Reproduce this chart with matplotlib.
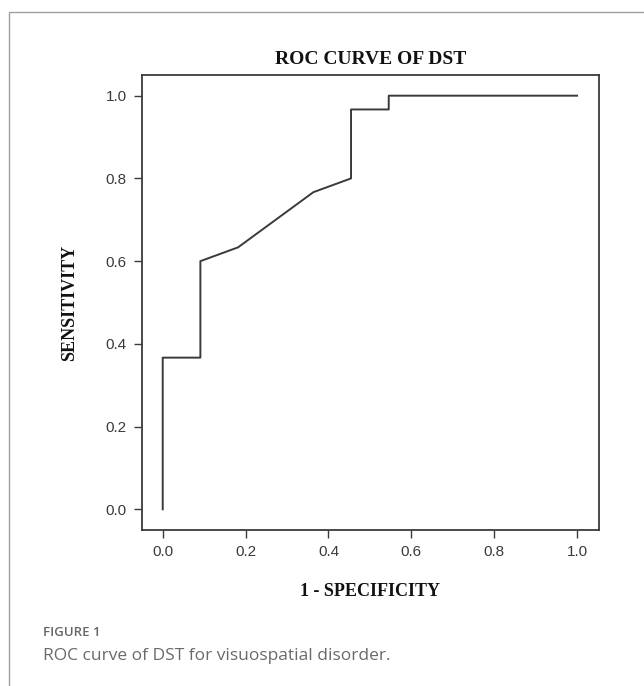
import matplotlib.pyplot as plt
from matplotlib.patches import Rectangle

# ROC points (1 - specificity, sensitivity)
fpr = [0.0, 0.0, 0.0909, 0.0909, 0.1818, 0.3636, 0.4545, 0.4545, 0.5455, 0.5455, 1.0]
tpr = [0.0, 0.3667, 0.3667, 0.6, 0.6333, 0.7667, 0.8, 0.9667, 0.9667, 1.0, 1.0]
x_ticks = [0.0, 0.2, 0.4, 0.6, 0.8, 1.0]
y_ticks = [0.0, 0.2, 0.4, 0.6, 0.8, 1.0]

fig = plt.figure(figsize=(6.44, 6.86), dpi=100)

# light frame around the figure panel
frame = Rectangle((9 / 644, -0.05), 1.1, 1 - 12 / 686 + 0.05,
                  transform=fig.transFigure, fill=False,
                  edgecolor='#a0a0a0', linewidth=1.0)
fig.patches.append(frame)

ax = fig.add_axes([142 / 644, 1 - 530 / 686, 457 / 644, 455 / 686])
ax.plot(fpr, tpr, color='#3a3a3a', linewidth=1.4)

ax.set_xlim(-0.05, 1.053)
ax.set_ylim(-0.05, 1.05)
ax.set_xticks(x_ticks)
ax.set_yticks(y_ticks)
ax.set_xticklabels([f'{v:.1f}' for v in x_ticks])
ax.set_yticklabels([f'{v:.1f}' for v in y_ticks])

for s in ax.spines.values():
    s.set_color('#3a3a3a')
    s.set_linewidth(1.3)
ax.tick_params(direction='out', length=6, width=1.0, color='#3a3a3a',
               labelsize=11, labelcolor='#3a3a3a', pad=5)
for lab in ax.get_xticklabels() + ax.get_yticklabels():
    lab.set_family('Liberation Sans')

serif = 'Liberation Serif'
ax.set_title('ROC CURVE OF DST', fontsize=14, family=serif,
             fontweight='bold', color='#111111', pad=8)
ax.set_xlabel('1 - SPECIFICITY', fontsize=13, family=serif,
              fontweight='bold', color='#111111', labelpad=17)
ax.set_ylabel('SENSITIVITY', fontsize=13, family=serif,
              fontweight='bold', color='#111111', labelpad=20)

fig.text(43 / 644, 1 - 632 / 686, 'FIGURE 1', fontsize=9.5, color='#666666',
         family='Open Sans', fontweight='semibold', va='center', ha='left')
fig.text(43 / 644, 1 - 656 / 686, 'ROC curve of DST for visuospatial disorder.',
         fontsize=12.5, color='#6a6a6a', family='Open Sans', va='center', ha='left')

fig.savefig('out.png', dpi=100, facecolor='white')
